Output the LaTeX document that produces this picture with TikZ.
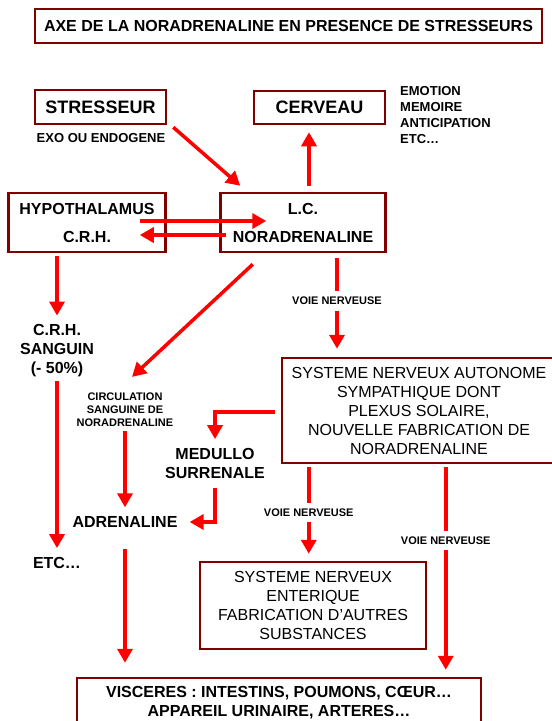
\documentclass[tikz,border=0pt]{standalone}
\usepackage{fontspec}
\setmainfont{Liberation Sans}
\usetikzlibrary{arrows.meta,positioning,calc}
\definecolor{frameC}{rgb}{0.50,0.0,0.0}
\definecolor{arrowC}{rgb}{1.0,0.0,0.0}
\newcommand{\fsz}[2]{\fontsize{#1}{#2}\selectfont}

\begin{document}
\begin{tikzpicture}[
  x=1pt,y=-1pt,
  box/.style={draw=frameC,line width=2.5pt,align=center,inner sep=0pt},
  txt/.style={align=center,inner sep=4pt},
  arr/.style={-{Triangle[width=15pt,length=14pt]},line width=3.5pt,arrowC},
  lbl/.style={fill=white,text=black,font=\bfseries\fsz{11}{13},inner sep=6pt}
]
  \useasboundingbox (0,0) rectangle (552,721);

  % Title
  \node[box,minimum width=507,minimum height=34,font=\bfseries\fsz{16}{19}]
    (title) at (288.5,26) {AXE DE LA NORADRENALINE EN PRESENCE DE STRESSEURS};

  % Top row
  \node[box,minimum width=131,minimum height=34,font=\bfseries\fsz{18}{21}]
    (stress) at (100.5,107) {STRESSEUR};
  \node[txt,font=\bfseries\fsz{13}{16}] (exo) at (101,138) {EXO OU ENDOGENE};
  \node[box,minimum width=131,minimum height=33,font=\bfseries\fsz{18}{21}]
    (cerv) at (319.5,107.5) {CERVEAU};
  \node[txt,align=left,anchor=west,font=\bfseries\fsz{13}{16}] (emo) at (396,115)
    {EMOTION\\MEMOIRE\\ANTICIPATION\\ETC…};

  % Hypothalamus and locus coeruleus
  \node[box,minimum width=157,minimum height=59,font=\bfseries\fsz{16}{28}]
    (hypo) at (87,222.5) {HYPOTHALAMUS\\C.R.H.};
  \node[box,minimum width=165,minimum height=59,font=\bfseries\fsz{16}{28}]
    (lc) at (303,222.5) {L.C.\\NORADRENALINE};

  % Left column
  \node[txt,font=\bfseries\fsz{16}{19}] (crhs) at (57,351) {C.R.H.\\SANGUIN\\(- 50\%)};
  \node[txt,font=\bfseries\fsz{16}{19}] (etc) at (57,563) {ETC…};
  \node[txt,font=\bfseries\fsz{11}{13}] (circ) at (125,410)
    {CIRCULATION\\SANGUINE DE\\NORADRENALINE};
  \node[txt,font=\bfseries\fsz{16}{19}] (adr) at (125,522) {ADRENALINE};
  \node[txt,font=\bfseries\fsz{16}{19}] (medul) at (215,463.5) {MEDULLO\\SURRENALE};

  % Nervous systems
  \node[box,minimum width=274,minimum height=105,font=\fsz{16}{19}] (sna) at (419,410.5)
    {SYSTEME NERVEUX AUTONOME\\SYMPATHIQUE DONT\\PLEXUS SOLAIRE,\\
     NOUVELLE FABRICATION DE\\NORADRENALINE};
  \node[box,minimum width=226,minimum height=87,font=\fsz{16}{19}] (sne) at (313,605.5)
    {SYSTEME NERVEUX\\ENTERIQUE\\FABRICATION D'AUTRES\\SUBSTANCES};

  % Visceres
  \node[box,minimum width=404,minimum height=49,font=\bfseries\fsz{16}{19}] (visc) at (279,702.5)
    {VISCERES : INTESTINS, POUMONS, CŒUR…\\APPAREIL URINAIRE, ARTERES…};

  % Arrows
  \draw[arr] ($(stress.south east)+(6,2)$) -- ($(lc.north west)+(21,-6)$);
  \draw[arr] ($(lc.north)+(6,-6)$) -- ($(cerv.south)+(-10.5,7)$);
  \draw[arr] ($(hypo.east)+(-27,-1.5)$) -- ($(lc.west)+(47,-1.5)$);
  \draw[arr] ($(lc.west)+(7,12.5)$) -- ($(hypo.east)+(-27,12.5)$);
  \draw[arr,shorten >=5pt] ($(hypo.south)+(-30,3)$) -- (crhs);
  \draw[arr,shorten >=5pt] (crhs) -- (etc);
  \draw[arr] ($(lc.south west)+(33.5,11)$) -- ($(circ.north)+(7,-12)$);
  \draw[arr,shorten >=5pt] (circ) -- (adr);
  \draw[arr,shorten <=17pt,shorten >=14pt] (adr) -- (adr |- visc.north);
  \draw[arr,shorten >=5pt] ($(sna.west)+(-6,1.5)$) -| (medul);
  \draw[arr,shorten <=5pt,shorten >=8pt] (medul) |- (adr);

  % Voie nerveuse
  \coordinate (lcb) at ($(lc.south)+(34,5)$);
  \draw[arr,shorten >=8pt] (lcb) -- (lcb |- sna.north)
    node[lbl,pos=.435] {VOIE NERVEUSE};
  \coordinate (snl) at ($(sna.south west)+(28,3)$);
  \draw[arr,shorten >=7pt] (snl) -- (snl |- sne.north)
    node[lbl,pos=.485] {VOIE NERVEUSE};
  \coordinate (snr) at ($(sna.south west)+(165,3)$);
  \draw[arr,shorten >=7pt] (snr) -- (snr |- visc.north)
    node[lbl,pos=.35] {VOIE NERVEUSE};
\end{tikzpicture}
\end{document}
